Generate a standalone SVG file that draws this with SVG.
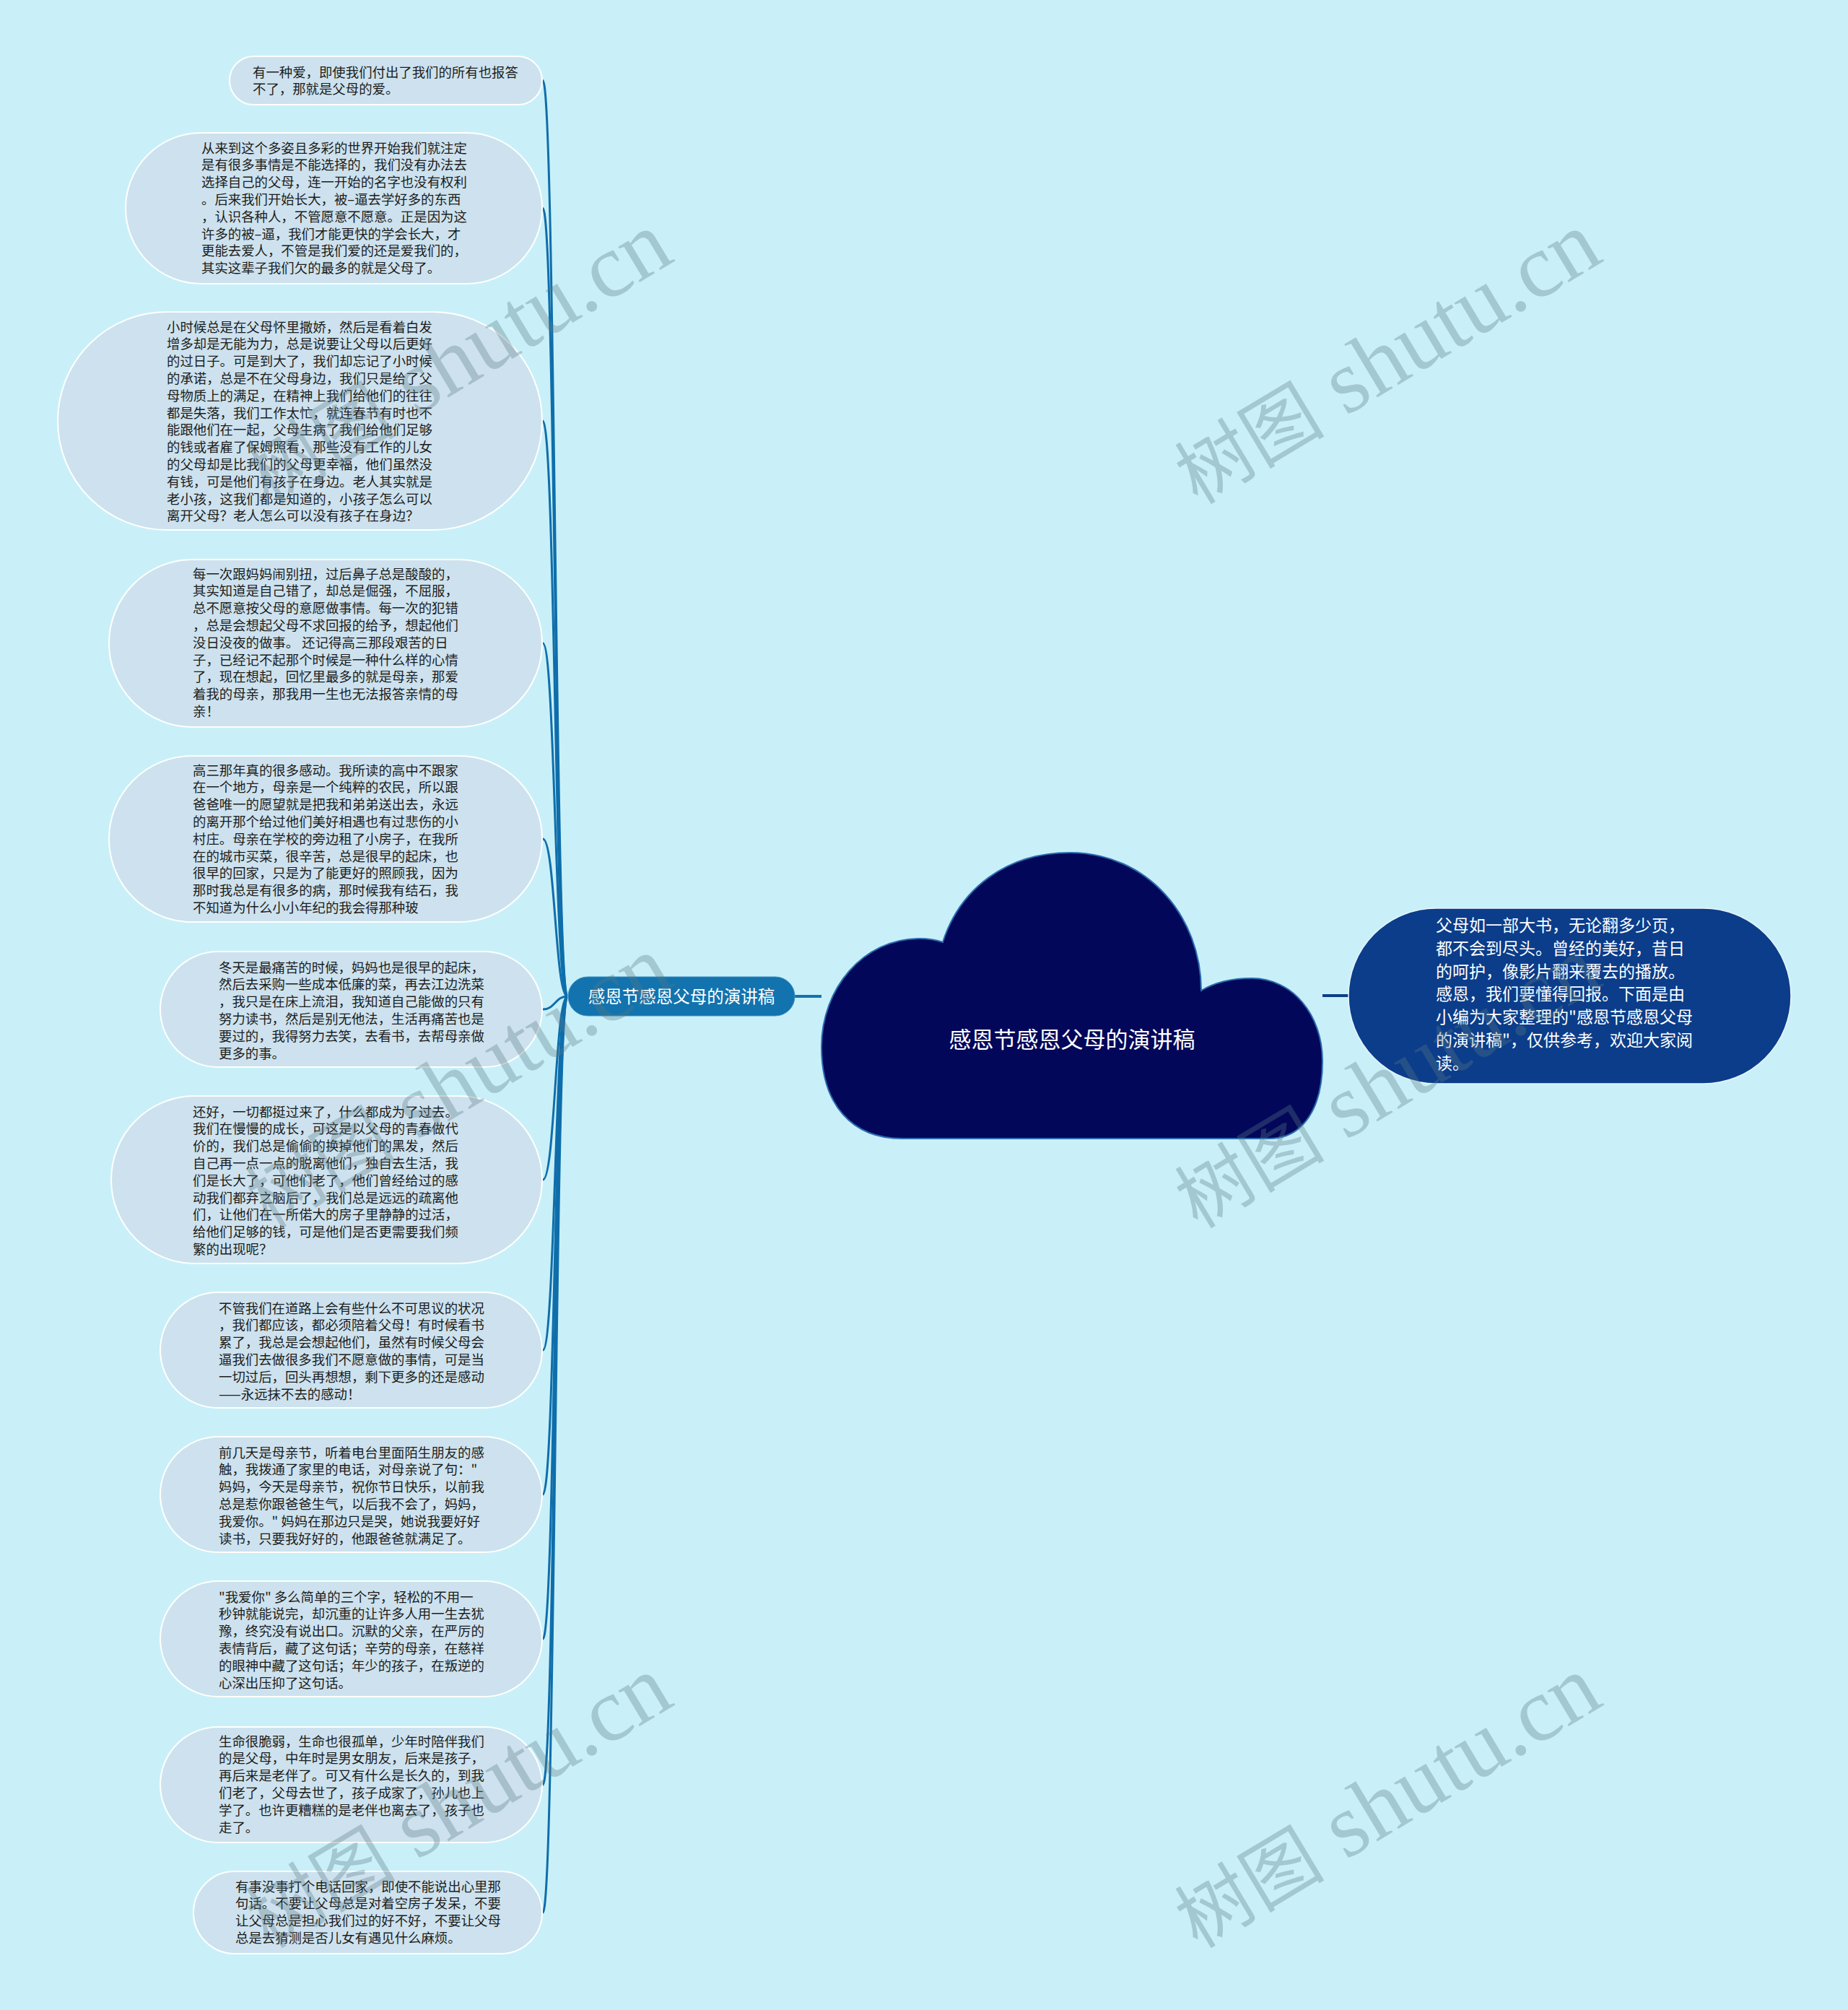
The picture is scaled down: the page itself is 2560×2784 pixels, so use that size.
<svg xmlns="http://www.w3.org/2000/svg" width="2560" height="2784" viewBox="0 0 2560 2784">
<style>
.bg{fill:#c9f0f8}
.leaf rect{fill:#cde2ee;stroke:#ffffff;stroke-width:2}
.lt{font-family:"Noto Sans CJK SC","Noto Sans",sans-serif;font-size:18.4px;fill:#1c1c1c}
.conn path{fill:none;stroke:#0f6eab;stroke-width:3}
.wt{font-family:"Liberation Serif","Noto Sans CJK SC",serif;font-size:125px;fill:#5a7a85;opacity:0.33}
.wc{font-size:104px}
</style>
<rect class="bg" x="0" y="0" width="2560" height="2784"/>

<g id="connectors" class="conn">
<path d="M786 1380 C769 1380 769 111.5 752 111.5"/>
<path d="M786 1380 C769 1380 769 288.5 752 288.5"/>
<path d="M786 1380 C769 1380 769 583 752 583"/>
<path d="M786 1380 C769 1380 769 891 752 891"/>
<path d="M786 1380 C769 1380 769 1162 752 1162"/>
<path d="M786 1380 C769 1380 769 1398 752 1398"/>
<path d="M786 1380 C769 1380 769 1634 752 1634"/>
<path d="M786 1380 C769 1380 769 1870 752 1870"/>
<path d="M786 1380 C769 1380 769 2070 752 2070"/>
<path d="M786 1380 C769 1380 769 2270 752 2270"/>
<path d="M786 1380 C769 1380 769 2472 752 2472"/>
<path d="M786 1380 C769 1380 769 2649 752 2649"/>
<path d="M1101 1380 L1138 1380" style="stroke:#1273ae;stroke-width:4"/>
<path d="M1832 1379 L1868 1379" style="stroke:#0c3e8a;stroke-width:4"/>
</g>

<g id="center">
<path d="M1250 1577 C1180 1577 1138 1530 1138 1450 C1138 1370 1195 1300 1274 1300 C1286 1300 1297 1302 1306 1305 C1330 1230 1395 1181 1482 1181 C1590 1181 1664 1270 1664 1372 C1684 1360 1708 1355 1734 1355 C1790 1355 1832 1405 1832 1470 C1832 1535 1805 1577 1758 1577 Z" fill="#03075a" stroke="#2b6cb0" stroke-width="2"/>
<text x="1485" y="1451" text-anchor="middle" font-family="Noto Sans CJK SC, Noto Sans, sans-serif" font-size="31" fill="#ffffff">感恩节感恩父母的演讲稿</text>
</g>

<g id="branch">
<rect x="787" y="1353" width="314" height="54" rx="27" fill="#1273ae" stroke="#3d8fc4" stroke-width="1"/>
<text x="944" y="1388.5" text-anchor="middle" font-family="Noto Sans CJK SC, Noto Sans, sans-serif" font-size="23.5" fill="#ffffff">感恩节感恩父母的演讲稿</text>
</g>

<g id="intro">
<rect x="1868" y="1258" width="613" height="243" rx="121.5" fill="#0b3d8a" stroke="#e8f4fb" stroke-width="1.5"/>
<text font-family="Noto Sans CJK SC, Noto Sans, sans-serif" font-size="23" fill="#ffffff">
<tspan x="1989" y="1290">父母如一部大书，无论翻多少页，</tspan>
<tspan x="1989" y="1321.8">都不会到尽头。曾经的美好，昔日</tspan>
<tspan x="1989" y="1353.6">的呵护，像影片翻来覆去的播放。</tspan>
<tspan x="1989" y="1385.4">感恩，我们要懂得回报。下面是由</tspan>
<tspan x="1989" y="1417.2">小编为大家整理的"感恩节感恩父母</tspan>
<tspan x="1989" y="1449">的演讲稿"，仅供参考，欢迎大家阅</tspan>
<tspan x="1989" y="1480.8">读。</tspan>
</text>
</g>

<g id="leaf1" class="leaf">
<rect x="318" y="78" width="433" height="67" rx="33.5"/>
<text class="lt">
<tspan x="350" y="106.5">有一种爱，即使我们付出了我们的所有也报答</tspan>
<tspan x="350" y="130.3">不了，那就是父母的爱。</tspan>
</text>
</g>

<g id="leaf2" class="leaf">
<rect x="174" y="184" width="577" height="209" rx="104.5"/>
<text class="lt">
<tspan x="279" y="211.5">从来到这个多姿且多彩的世界开始我们就注定</tspan>
<tspan x="279" y="235.3">是有很多事情是不能选择的，我们没有办法去</tspan>
<tspan x="279" y="259.1">选择自己的父母，连一开始的名字也没有权利</tspan>
<tspan x="279" y="282.9">。后来我们开始长大，被–逼去学好多的东西</tspan>
<tspan x="279" y="306.7">，认识各种人，不管愿意不愿意。正是因为这</tspan>
<tspan x="279" y="330.5">许多的被–逼，我们才能更快的学会长大，才</tspan>
<tspan x="279" y="354.3">更能去爱人，不管是我们爱的还是爱我们的，</tspan>
<tspan x="279" y="378.1">其实这辈子我们欠的最多的就是父母了。</tspan>
</text>
</g>

<g id="leaf3" class="leaf">
<rect x="80" y="432" width="671" height="302" rx="151"/>
<text class="lt">
<tspan x="231" y="459.5">小时候总是在父母怀里撒娇，然后是看着白发</tspan>
<tspan x="231" y="483.3">增多却是无能为力，总是说要让父母以后更好</tspan>
<tspan x="231" y="507.1">的过日子。可是到大了，我们却忘记了小时候</tspan>
<tspan x="231" y="530.9">的承诺，总是不在父母身边，我们只是给了父</tspan>
<tspan x="231" y="554.7">母物质上的满足，在精神上我们给他们的往往</tspan>
<tspan x="231" y="578.5">都是失落，我们工作太忙，就连春节有时也不</tspan>
<tspan x="231" y="602.3">能跟他们在一起，父母生病了我们给他们足够</tspan>
<tspan x="231" y="626.1">的钱或者雇了保姆照看，那些没有工作的儿女</tspan>
<tspan x="231" y="649.9">的父母却是比我们的父母更幸福，他们虽然没</tspan>
<tspan x="231" y="673.7">有钱，可是他们有孩子在身边。老人其实就是</tspan>
<tspan x="231" y="697.5">老小孩，这我们都是知道的，小孩子怎么可以</tspan>
<tspan x="231" y="721.3">离开父母？老人怎么可以没有孩子在身边？</tspan>
</text>
</g>

<g id="leaf4" class="leaf">
<rect x="151" y="775" width="600" height="232" rx="116"/>
<text class="lt">
<tspan x="267" y="801.5">每一次跟妈妈闹别扭，过后鼻子总是酸酸的，</tspan>
<tspan x="267" y="825.3">其实知道是自己错了，却总是倔强，不屈服，</tspan>
<tspan x="267" y="849.1">总不愿意按父母的意愿做事情。每一次的犯错</tspan>
<tspan x="267" y="872.9">，总是会想起父母不求回报的给予，想起他们</tspan>
<tspan x="267" y="896.7">没日没夜的做事。 还记得高三那段艰苦的日</tspan>
<tspan x="267" y="920.5">子，已经记不起那个时候是一种什么样的心情</tspan>
<tspan x="267" y="944.3">了，现在想起，回忆里最多的就是母亲，那爱</tspan>
<tspan x="267" y="968.1">着我的母亲，那我用一生也无法报答亲情的母</tspan>
<tspan x="267" y="991.9">亲！</tspan>
</text>
</g>

<g id="leaf5" class="leaf">
<rect x="151" y="1047" width="600" height="230" rx="115"/>
<text class="lt">
<tspan x="267" y="1073.5">高三那年真的很多感动。我所读的高中不跟家</tspan>
<tspan x="267" y="1097.3">在一个地方，母亲是一个纯粹的农民，所以跟</tspan>
<tspan x="267" y="1121.1">爸爸唯一的愿望就是把我和弟弟送出去，永远</tspan>
<tspan x="267" y="1144.9">的离开那个给过他们美好相遇也有过悲伤的小</tspan>
<tspan x="267" y="1168.7">村庄。母亲在学校的旁边租了小房子，在我所</tspan>
<tspan x="267" y="1192.5">在的城市买菜，很辛苦，总是很早的起床，也</tspan>
<tspan x="267" y="1216.3">很早的回家，只是为了能更好的照顾我，因为</tspan>
<tspan x="267" y="1240.1">那时我总是有很多的病，那时候我有结石，我</tspan>
<tspan x="267" y="1263.9">不知道为什么小小年纪的我会得那种玻</tspan>
</text>
</g>

<g id="leaf6" class="leaf">
<rect x="222" y="1318" width="529" height="160" rx="80"/>
<text class="lt">
<tspan x="303" y="1346.5">冬天是最痛苦的时候，妈妈也是很早的起床，</tspan>
<tspan x="303" y="1370.3">然后去采购一些成本低廉的菜，再去江边洗菜</tspan>
<tspan x="303" y="1394.1">，我只是在床上流泪，我知道自己能做的只有</tspan>
<tspan x="303" y="1417.9">努力读书，然后是别无他法，生活再痛苦也是</tspan>
<tspan x="303" y="1441.7">要过的，我得努力去笑，去看书，去帮母亲做</tspan>
<tspan x="303" y="1465.5">更多的事。</tspan>
</text>
</g>

<g id="leaf7" class="leaf">
<rect x="154" y="1518" width="597" height="232" rx="116"/>
<text class="lt">
<tspan x="267" y="1546.5">还好，一切都挺过来了，什么都成为了过去。</tspan>
<tspan x="267" y="1570.3">我们在慢慢的成长，可这是以父母的青春做代</tspan>
<tspan x="267" y="1594.1">价的，我们总是偷偷的换掉他们的黑发，然后</tspan>
<tspan x="267" y="1617.9">自己再一点一点的脱离他们，独自去生活，我</tspan>
<tspan x="267" y="1641.7">们是长大了，可他们老了，他们曾经给过的感</tspan>
<tspan x="267" y="1665.5">动我们都弃之脑后了，我们总是远远的疏离他</tspan>
<tspan x="267" y="1689.3">们，让他们在一所偌大的房子里静静的过活，</tspan>
<tspan x="267" y="1713.1">给他们足够的钱，可是他们是否更需要我们频</tspan>
<tspan x="267" y="1736.9">繁的出现呢？</tspan>
</text>
</g>

<g id="leaf8" class="leaf">
<rect x="222" y="1790" width="529" height="160" rx="80"/>
<text class="lt">
<tspan x="303" y="1818.5">不管我们在道路上会有些什么不可思议的状况</tspan>
<tspan x="303" y="1842.3">，我们都应该，都必须陪着父母！有时候看书</tspan>
<tspan x="303" y="1866.1">累了，我总是会想起他们，虽然有时候父母会</tspan>
<tspan x="303" y="1889.9">逼我们去做很多我们不愿意做的事情，可是当</tspan>
<tspan x="303" y="1913.7">一切过后，回头再想想，剩下更多的还是感动</tspan>
<tspan x="303" y="1937.5">——永远抹不去的感动！</tspan>
</text>
</g>

<g id="leaf9" class="leaf">
<rect x="222" y="1990" width="529" height="160" rx="80"/>
<text class="lt">
<tspan x="303" y="2018.5">前几天是母亲节，听着电台里面陌生朋友的感</tspan>
<tspan x="303" y="2042.3">触，我拨通了家里的电话，对母亲说了句："</tspan>
<tspan x="303" y="2066.1">妈妈，今天是母亲节，祝你节日快乐，以前我</tspan>
<tspan x="303" y="2089.9">总是惹你跟爸爸生气，以后我不会了，妈妈，</tspan>
<tspan x="303" y="2113.7">我爱你。" 妈妈在那边只是哭，她说我要好好</tspan>
<tspan x="303" y="2137.5">读书，只要我好好的，他跟爸爸就满足了。</tspan>
</text>
</g>

<g id="leaf10" class="leaf">
<rect x="222" y="2190" width="529" height="160" rx="80"/>
<text class="lt">
<tspan x="303" y="2218.5">"我爱你" 多么简单的三个字，轻松的不用一</tspan>
<tspan x="303" y="2242.3">秒钟就能说完，却沉重的让许多人用一生去犹</tspan>
<tspan x="303" y="2266.1">豫，终究没有说出口。沉默的父亲，在严厉的</tspan>
<tspan x="303" y="2289.9">表情背后，藏了这句话；辛劳的母亲，在慈祥</tspan>
<tspan x="303" y="2313.7">的眼神中藏了这句话；年少的孩子，在叛逆的</tspan>
<tspan x="303" y="2337.5">心深出压抑了这句话。</tspan>
</text>
</g>

<g id="leaf11" class="leaf">
<rect x="222" y="2392" width="529" height="160" rx="80"/>
<text class="lt">
<tspan x="303" y="2418.5">生命很脆弱，生命也很孤单，少年时陪伴我们</tspan>
<tspan x="303" y="2442.3">的是父母，中年时是男女朋友，后来是孩子，</tspan>
<tspan x="303" y="2466.1">再后来是老伴了。可又有什么是长久的，到我</tspan>
<tspan x="303" y="2489.9">们老了，父母去世了，孩子成家了，孙儿也上</tspan>
<tspan x="303" y="2513.7">学了。也许更糟糕的是老伴也离去了，孩子也</tspan>
<tspan x="303" y="2537.5">走了。</tspan>
</text>
</g>

<g id="leaf12" class="leaf">
<rect x="268" y="2592" width="483" height="114" rx="57"/>
<text class="lt">
<tspan x="326" y="2619.5">有事没事打个电话回家，即使不能说出心里那</tspan>
<tspan x="326" y="2643.3">句话。不要让父母总是对着空房子发呆，不要</tspan>
<tspan x="326" y="2667.1">让父母总是担心我们过的好不好，不要让父母</tspan>
<tspan x="326" y="2690.9">总是去猜测是否儿女有遇见什么麻烦。</tspan>
</text>
</g>

<g id="watermarks">
<text class="wt" transform="translate(372,700) rotate(-31)"><tspan class="wc">树图</tspan> shutu.cn</text>
<text class="wt" transform="translate(1659,700) rotate(-31)"><tspan class="wc">树图</tspan> shutu.cn</text>
<text class="wt" transform="translate(372,1703) rotate(-31)"><tspan class="wc">树图</tspan> shutu.cn</text>
<text class="wt" transform="translate(1659,1703) rotate(-31)"><tspan class="wc">树图</tspan> shutu.cn</text>
<text class="wt" transform="translate(372,2700) rotate(-31)"><tspan class="wc">树图</tspan> shutu.cn</text>
<text class="wt" transform="translate(1659,2700) rotate(-31)"><tspan class="wc">树图</tspan> shutu.cn</text>
</g>
</svg>
